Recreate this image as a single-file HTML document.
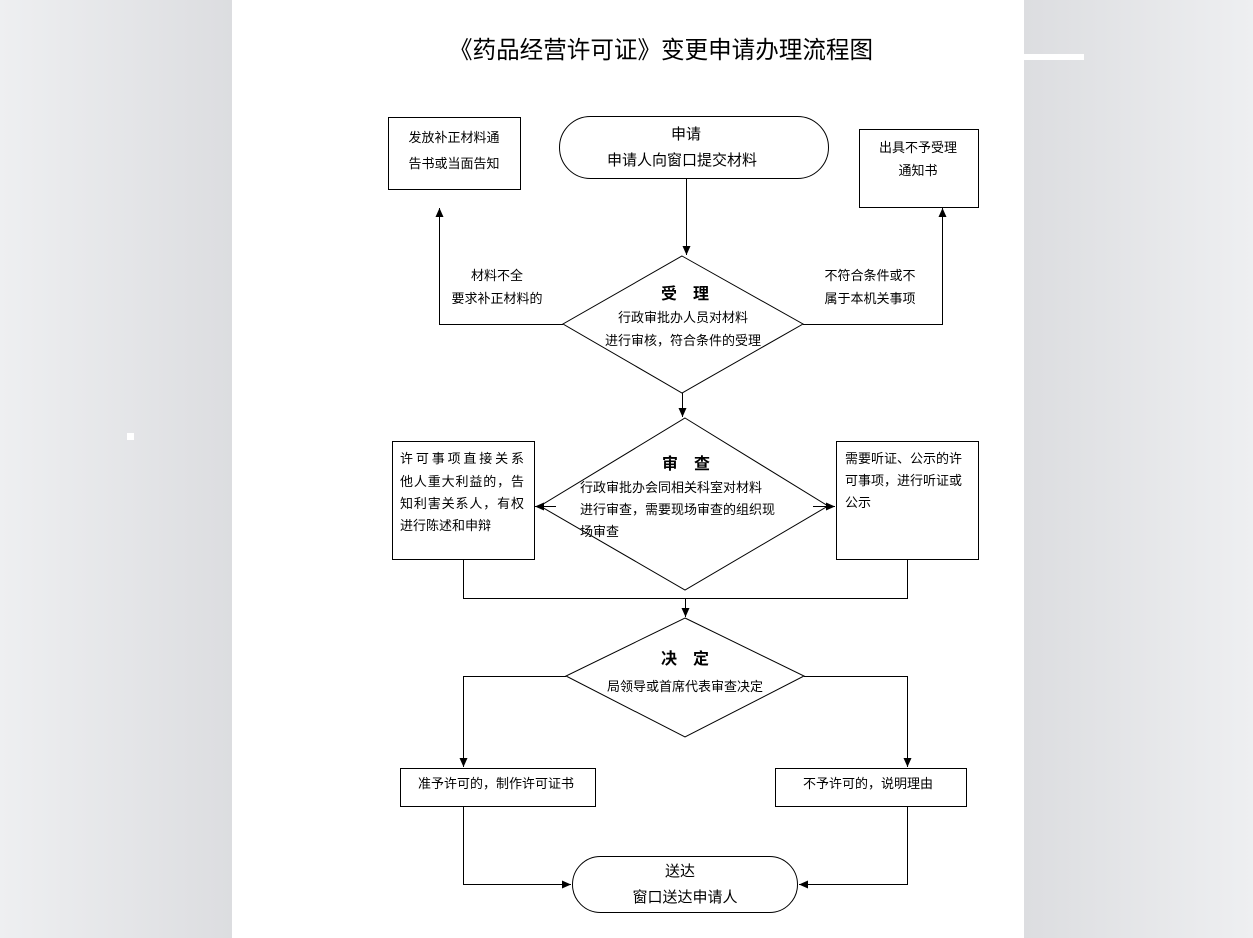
<!DOCTYPE html>
<html><head><meta charset="utf-8"><style>
html,body{margin:0;padding:0}
body{width:1253px;height:938px;overflow:hidden;background:#e6e7e9}
svg{display:block}
text{font-family:"Liberation Sans","Noto Sans CJK SC","WenQuanYi Zen Hei",sans-serif;fill:#000}
</style></head><body>
<svg width="1253" height="938" viewBox="0 0 1253 938" xmlns="http://www.w3.org/2000/svg">
<defs>
<marker id="a" markerWidth="10" markerHeight="10" refX="9" refY="5" orient="auto" markerUnits="userSpaceOnUse">
<path d="M0,1 L9,5 L0,9 z" fill="#000"/></marker>
<linearGradient id="gl" x1="0" x2="1"><stop offset="0" stop-color="#eeeff1"/><stop offset="1" stop-color="#dcdde0"/></linearGradient>
<linearGradient id="gr" x1="0" x2="1"><stop offset="0" stop-color="#dcdde0"/><stop offset="1" stop-color="#eeeff1"/></linearGradient>
</defs>
<rect x="0" y="0" width="232" height="938" fill="url(#gl)"/>
<rect x="1024" y="0" width="229" height="938" fill="url(#gr)"/>
<rect x="232" y="0" width="792" height="938" fill="#fff"/>
<rect x="1024" y="54" width="60" height="6" fill="#fff"/>
<rect x="127" y="433" width="7" height="7" fill="#fff"/>

<text x="661" y="58" font-size="24" text-anchor="middle" textLength="424" lengthAdjust="spacingAndGlyphs">《药品经营许可证》变更申请办理流程图</text>

<g fill="none" stroke="#000" stroke-width="1">
<rect x="388.5" y="117.5" width="132" height="72"/>
<rect x="559.5" y="116.5" width="269" height="62" rx="31"/>
<rect x="859.5" y="129.5" width="119" height="78"/>
<path d="M682,256 L803,324 L682,393 L563,324 Z"/>
<path d="M685,418 L828,506 L685,590 L540,506 Z"/>
<path d="M685,618 L804,676 L685,737 L566,676 Z"/>
<rect x="392.5" y="441.5" width="142" height="118"/>
<rect x="836.5" y="441.5" width="142" height="118"/>
<rect x="400.5" y="768.5" width="195" height="38"/>
<rect x="775.5" y="768.5" width="191" height="38"/>
<rect x="572.5" y="856.5" width="225" height="56" rx="28"/>

<path d="M686.5,178 V255" marker-end="url(#a)"/>
<path d="M563,324.5 H439.5 V208" marker-end="url(#a)"/>
<path d="M803,324.5 H942.5 V208" marker-end="url(#a)"/>
<path d="M682.5,393 V417" marker-end="url(#a)"/>
<path d="M556,506.5 H535" marker-end="url(#a)"/>
<path d="M813,506.5 H835" marker-end="url(#a)"/>
<path d="M463.5,559 V598.5 H907.5 V559"/>
<path d="M685.5,598 V617" marker-end="url(#a)"/>
<path d="M566,676.5 H463.5 V767" marker-end="url(#a)"/>
<path d="M804,676.5 H907.5 V767" marker-end="url(#a)"/>
<path d="M463.5,806 V884.5 H571" marker-end="url(#a)"/>
<path d="M907.5,806 V884.5 H799" marker-end="url(#a)"/>
</g>

<g font-size="13">
<text x="454" y="142" text-anchor="middle">发放补正材料通</text>
<text x="454" y="168" text-anchor="middle">告书或当面告知</text>
<text x="918" y="152" text-anchor="middle">出具不予受理</text>
<text x="918" y="175" text-anchor="middle">通知书</text>
<text x="497" y="280" text-anchor="middle">材料不全</text>
<text x="497" y="303" text-anchor="middle">要求补正材料的</text>
<text x="870" y="280" text-anchor="middle">不符合条件或不</text>
<text x="870" y="303" text-anchor="middle">属于本机关事项</text>
<text x="683" y="322" text-anchor="middle">行政审批办人员对材料</text>
<text x="683" y="345" text-anchor="middle">进行审核，符合条件的受理</text>
<text x="580" y="492">行政审批办会同相关科室对材料</text>
<text x="580" y="514">进行审查，需要现场审查的组织现</text>
<text x="580" y="536">场审查</text>
<text x="400" y="463" textLength="124" lengthAdjust="spacing">许可事项直接关系</text>
<text x="400" y="486" textLength="124" lengthAdjust="spacing">他人重大利益的，告</text>
<text x="400" y="508" textLength="124" lengthAdjust="spacing">知利害关系人，有权</text>
<text x="400" y="530">进行陈述和申辩</text>
<text x="845" y="463">需要听证、公示的许</text>
<text x="845" y="485">可事项，进行听证或</text>
<text x="845" y="507">公示</text>
<text x="685" y="691" text-anchor="middle">局领导或首席代表审查决定</text>
<text x="496" y="788" text-anchor="middle">准予许可的，制作许可证书</text>
<text x="868" y="788" text-anchor="middle">不予许可的，说明理由</text>
</g>
<g font-size="15">
<text x="686" y="139" text-anchor="middle">申请</text>
<text x="682" y="165" text-anchor="middle">申请人向窗口提交材料</text>
<text x="680" y="876" text-anchor="middle">送达</text>
<text x="685" y="902" text-anchor="middle">窗口送达申请人</text>
</g>
<g font-size="16" font-weight="bold">
<text x="685" y="299" text-anchor="middle">受　理</text>
<text x="686" y="469" text-anchor="middle">审　查</text>
<text x="685" y="664" text-anchor="middle">决　定</text>
</g>
</svg>
</body></html>
